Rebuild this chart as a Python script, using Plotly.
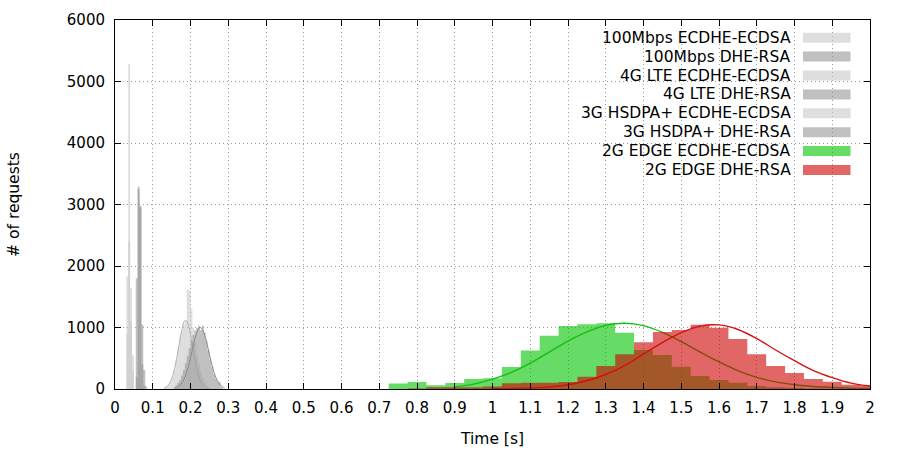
import plotly.graph_objects as go

# ---------------- data ----------------
GRAY_BIN = 0.005
EDGE_BIN = 0.05

# 100Mbps
mbps_ecdhe_x = [0.0325, 0.0375, 0.0425, 0.0475]
mbps_ecdhe_y = [1830, 5280, 1640, 550]
mbps_dhe_x = [0.0575, 0.0625, 0.0675, 0.0725, 0.0775, 0.0825]
mbps_dhe_y = [1800, 3290, 2980, 1050, 310, 40]

# 4G LTE
lte_ecdhe_x = [0.0325, 0.0375, 0.0425, 0.0475]
lte_ecdhe_y = [900, 2400, 1100, 300]
lte_dhe_x = [0.0575, 0.0625, 0.0675, 0.0725, 0.0775]
lte_dhe_y = [200, 3250, 2950, 400, 60]

# 3G HSDPA+
hsdpa_ecdhe_x = [0.1325, 0.1375, 0.1425, 0.1475, 0.1525, 0.1575, 0.1625, 0.1675,
                 0.1725, 0.1775, 0.1825, 0.1875, 0.1925, 0.1975, 0.2025, 0.2075,
                 0.2125, 0.2175, 0.2225, 0.2275, 0.2325, 0.2375, 0.2425, 0.2475]
hsdpa_ecdhe_y = [25, 45, 75, 120, 200, 300, 480, 650, 850, 950, 1050, 1100, 1620, 1600,
                 1300, 1000, 750, 550, 400, 280, 180, 110, 60, 30]
hsdpa_dhe_x = [0.1575, 0.1625, 0.1675, 0.1725, 0.1775, 0.1825, 0.1875, 0.1925, 0.1975,
               0.2025, 0.2075, 0.2125, 0.2175, 0.2225, 0.2275, 0.2325, 0.2375, 0.2425,
               0.2475, 0.2525, 0.2575, 0.2625, 0.2675, 0.2725, 0.2775, 0.2825]
hsdpa_dhe_y = [30, 60, 100, 150, 220, 310, 420, 540, 660, 780, 880, 950, 990, 1030, 960,
               1030, 920, 780, 620, 480, 360, 250, 170, 120, 110, 30]

# fitted curves of the 3G cluster
hsdpa_ecdhe_fit_x = [0.13, 0.135, 0.14, 0.145, 0.15, 0.155, 0.16, 0.165, 0.17, 0.175, 0.18,
                     0.185, 0.19, 0.195, 0.2, 0.205, 0.21, 0.215, 0.22, 0.225, 0.23, 0.235,
                     0.24, 0.245, 0.25]
hsdpa_ecdhe_fit_y = [15, 30, 55, 100, 165, 260, 390, 550, 730, 900, 1040, 1115, 1105, 1030,
                     890, 720, 540, 380, 250, 150, 85, 45, 22, 10, 4]
hsdpa_dhe_fit_x = [0.16, 0.165, 0.17, 0.175, 0.18, 0.185, 0.19, 0.195, 0.2, 0.205, 0.21,
                   0.215, 0.22, 0.225, 0.23, 0.235, 0.24, 0.245, 0.25, 0.255, 0.26, 0.265,
                   0.27, 0.275, 0.28, 0.285, 0.29]
hsdpa_dhe_fit_y = [15, 28, 48, 80, 125, 190, 275, 380, 505, 640, 770, 882, 964, 999, 984,
                   925, 825, 700, 565, 435, 320, 222, 148, 94, 57, 33, 18]

# 2G EDGE
edge_x = [0.75, 0.80, 0.85, 0.90, 0.95, 1.00, 1.05, 1.10, 1.15, 1.20, 1.25, 1.30, 1.35,
          1.40, 1.45, 1.50, 1.55, 1.60, 1.65, 1.70, 1.75, 1.80, 1.85, 1.90, 1.95, 2.00]
edge_ecdhe_y = [90, 114, 60, 98, 163, 173, 358, 628, 867, 1024, 1051, 1068, 916,
                634, 553, 363, 211, 146, 103, 49, 30, 20, 10, 6, 3, 2]
edge_dhe_y = [0, 8, 28, 28, 30, 40, 92, 103, 103, 112, 201, 374, 564,
              759, 927, 959, 1046, 997, 813, 564, 374, 260, 163, 119, 70, 54]

edge_ecdhe_fit_x = [0.90, 0.95, 1.00, 1.05, 1.10, 1.15, 1.20, 1.25, 1.30, 1.35, 1.40, 1.45,
                    1.50, 1.55, 1.60, 1.65, 1.70, 1.75, 1.80, 1.85, 1.90, 1.95, 2.00]
edge_ecdhe_fit_y = [35, 80, 160, 270, 420, 600, 780, 930, 1035, 1068, 1030, 920,
                    770, 600, 440, 300, 190, 115, 70, 40, 25, 15, 10]
edge_dhe_fit_x = [1.00, 1.05, 1.10, 1.15, 1.20, 1.25, 1.30, 1.35, 1.40, 1.45, 1.50, 1.55,
                  1.60, 1.65, 1.70, 1.75, 1.80, 1.85, 1.90, 1.95, 2.00]
edge_dhe_fit_y = [5, 10, 18, 33, 69, 134, 236, 380, 570, 755, 916, 1023,
                  1042, 968, 820, 634, 460, 300, 185, 95, 48]

x_ticks = [0, 0.1, 0.2, 0.3, 0.4, 0.5, 0.6, 0.7, 0.8, 0.9, 1, 1.1, 1.2, 1.3, 1.4, 1.5,
           1.6, 1.7, 1.8, 1.9, 2]
x_tick_labels = ["0", "0.1", "0.2", "0.3", "0.4", "0.5", "0.6", "0.7", "0.8", "0.9", "1",
                 "1.1", "1.2", "1.3", "1.4", "1.5", "1.6", "1.7", "1.8", "1.9", "2"]

legend_names = ["100Mbps ECDHE-ECDSA", "100Mbps DHE-RSA", "4G LTE ECDHE-ECDSA",
                "4G LTE DHE-RSA", "3G HSDPA+ ECDHE-ECDSA", "3G HSDPA+ DHE-RSA",
                "2G EDGE ECDHE-ECDSA", "2G EDGE DHE-RSA"]

# ---------------- styles ----------------
LIGHT = "rgba(200,200,200,0.6)"
MID = "rgba(150,150,150,0.6)"
GREEN = "rgba(0,197,0,0.6)"
RED = "rgba(205,0,0,0.6)"
legend_colors = [LIGHT, MID, LIGHT, MID, LIGHT, MID, GREEN, RED]
FONT = "DejaVu Sans"


def step_hist(centers, values, width, color):
    xs = [c - width / 2 for c in centers] + [centers[-1] + width / 2]
    ys = list(values) + [values[-1]]
    return go.Scatter(x=xs, y=ys, mode="lines", line=dict(shape="hv", width=0, color=color),
                      fill="tozeroy", fillcolor=color, hoverinfo="skip", showlegend=False)


def curve(xs, ys, color, width=1.4):
    return go.Scatter(x=xs, y=ys, mode="lines", line=dict(shape="spline", color=color, width=width),
                      hoverinfo="skip", showlegend=False)


fig = go.Figure()
fig.add_trace(step_hist(mbps_ecdhe_x, mbps_ecdhe_y, GRAY_BIN, LIGHT))
fig.add_trace(step_hist(mbps_dhe_x, mbps_dhe_y, GRAY_BIN, MID))
fig.add_trace(step_hist(lte_ecdhe_x, lte_ecdhe_y, GRAY_BIN, LIGHT))
fig.add_trace(step_hist(lte_dhe_x, lte_dhe_y, GRAY_BIN, MID))
fig.add_trace(step_hist(hsdpa_ecdhe_x, hsdpa_ecdhe_y, GRAY_BIN, LIGHT))
fig.add_trace(curve(hsdpa_ecdhe_fit_x, hsdpa_ecdhe_fit_y, "rgb(180,180,180)", 1))
fig.add_trace(step_hist(hsdpa_dhe_x, hsdpa_dhe_y, GRAY_BIN, MID))
fig.add_trace(curve(hsdpa_dhe_fit_x, hsdpa_dhe_fit_y, "rgb(140,140,140)", 1))
fig.add_trace(step_hist(edge_x, edge_ecdhe_y, EDGE_BIN, GREEN))
fig.add_trace(curve(edge_ecdhe_fit_x, edge_ecdhe_fit_y, "rgb(20,190,20)"))
fig.add_trace(step_hist(edge_x, edge_dhe_y, EDGE_BIN, RED))
fig.add_trace(curve(edge_dhe_fit_x, edge_dhe_fit_y, "rgb(215,15,15)"))

# ---------------- custom legend (text left of a wide swatch) ----------------
PLOT_L, PLOT_R, PLOT_T, PLOT_B = 115, 870, 20, 389
pw, ph = PLOT_R - PLOT_L, PLOT_B - PLOT_T
shapes, annotations = [], []
for i, (name, col) in enumerate(zip(legend_names, legend_colors)):
    yc = 37.7 + 18.9 * i
    yp = (PLOT_B - yc) / ph
    shapes.append(dict(type="rect", xref="paper", yref="paper",
                       x0=(803 - PLOT_L) / pw, x1=(850.5 - PLOT_L) / pw,
                       y0=yp - 5 / ph, y1=yp + 5 / ph,
                       fillcolor=col, line=dict(width=0), layer="above"))
    annotations.append(dict(xref="paper", yref="paper", x=(793 - PLOT_L) / pw, y=yp,
                            xanchor="right", yanchor="middle", text=name, showarrow=False,
                            font=dict(family=FONT, size=15.5, color="black")))

axis_common = dict(showline=True, linecolor="black", linewidth=1, mirror="ticks",
                   ticks="inside", ticklen=6, tickcolor="black", tickwidth=1,
                   showgrid=True, gridcolor="#9a9a9a", griddash="1px,3px", gridwidth=1,
                   zeroline=False, automargin=False,
                   tickfont=dict(family=FONT, size=15, color="black"))

fig.update_layout(
    width=900, height=450,
    margin=dict(l=PLOT_L, r=900 - PLOT_R, t=PLOT_T, b=450 - PLOT_B),
    paper_bgcolor="white", plot_bgcolor="white",
    showlegend=False,
    xaxis=dict(range=[0, 2], tickvals=x_ticks, ticktext=x_tick_labels,
               title=dict(text="Time [s]", font=dict(family=FONT, size=15.5, color="black"),
                          standoff=17),
               ticklabelstandoff=5, **axis_common),
    yaxis=dict(range=[0, 6000], tickmode="linear", tick0=0, dtick=1000,
               title=dict(text="# of requests", font=dict(family=FONT, size=15.5, color="black"),
                          standoff=43),
               ticklabelstandoff=6, **axis_common),
    shapes=shapes, annotations=annotations,
)

fig.write_html("out.html")
